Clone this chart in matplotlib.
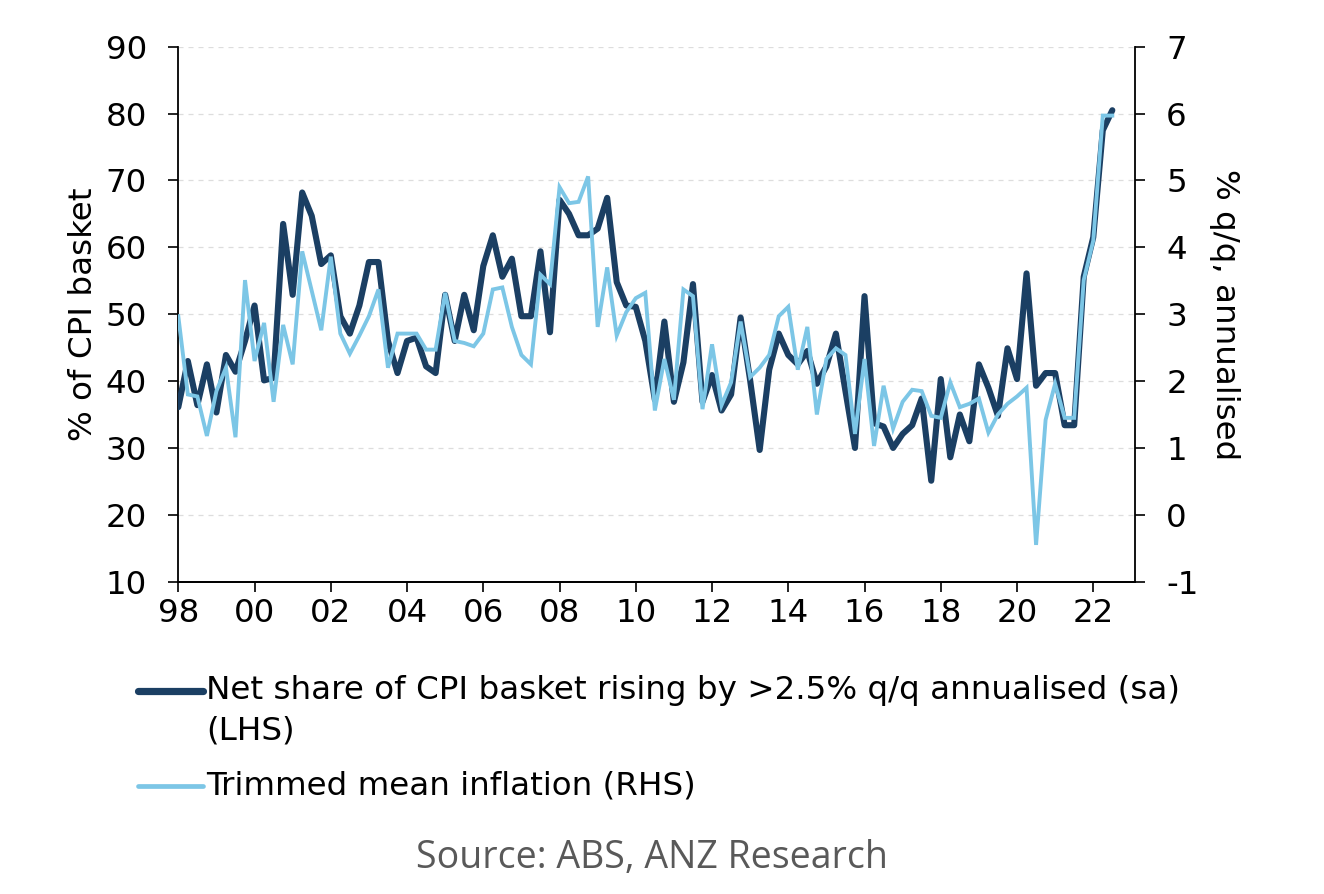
import matplotlib
matplotlib.use("Agg")
import matplotlib.pyplot as plt
from matplotlib.lines import Line2D
import numpy as np

# ---------------- data ----------------
start_year = 1998.0
net_share = [36.1, 43.0, 36.4, 42.5, 35.3, 43.9, 41.4, 46.0, 51.3, 40.1,
             40.5, 63.5, 52.9, 68.2, 64.7, 57.5, 58.8, 49.7, 47.1, 51.3,
             57.8, 57.8, 46.0, 41.2, 46.0, 46.5, 42.2, 41.2, 52.9, 46.0,
             52.9, 47.6, 57.2, 61.8, 55.6, 58.3, 49.7, 49.7, 59.4, 47.3,
             67.1, 65.0, 61.8, 61.8, 62.8, 67.4, 54.8, 51.3, 51.1, 46.0,
             37.2, 48.9, 36.9, 42.8, 54.5, 36.9, 40.9, 35.6, 38.0, 49.5,
             40.1, 29.7, 41.7, 47.1, 43.9, 42.5, 44.5, 39.6, 42.2, 47.1,
             38.5, 30.0, 52.7, 33.7, 33.2, 30.0, 32.1, 33.4, 37.4, 25.1,
             40.3, 28.6, 35.0, 31.0, 42.5, 39.0, 34.8, 44.9, 40.3, 56.1,
             39.3, 41.2, 41.2, 33.4, 33.4, 55.6, 61.5, 77.5, 80.5]
trimmed_mean = [2.97, 1.80, 1.77, 1.18, 1.85, 2.20, 1.16, 3.51, 2.30, 2.87,
                1.69, 2.84, 2.25, 3.94, 3.35, 2.76, 3.86, 2.71, 2.41, 2.68,
                2.97, 3.37, 2.20, 2.71, 2.71, 2.71, 2.47, 2.47, 3.32, 2.60,
                2.57, 2.52, 2.71, 3.37, 3.40, 2.81, 2.39, 2.25, 3.59, 3.45,
                4.90, 4.66, 4.68, 5.06, 2.81, 3.70, 2.68, 3.03, 3.24, 3.32,
                1.56, 2.33, 1.72, 3.37, 3.27, 1.58, 2.55, 1.64, 1.98, 2.89,
                2.06, 2.20, 2.39, 2.97, 3.11, 2.17, 2.81, 1.50, 2.33, 2.49,
                2.39, 1.21, 2.33, 1.03, 1.93, 1.29, 1.69, 1.87, 1.85, 1.48,
                1.45, 1.98, 1.61, 1.66, 1.74, 1.23, 1.50, 1.66, 1.77, 1.90,
                -0.45, 1.42, 1.96, 1.45, 1.45, 3.51, 4.10, 5.97, 5.97]
x_tick_years = [1998, 2000, 2002, 2004, 2006, 2008, 2010, 2012, 2014, 2016, 2018, 2020, 2022]
x_tick_labels = ["98", "00", "02", "04", "06", "08", "10", "12", "14", "16", "18", "20", "22"]
left_ticks = [10, 20, 30, 40, 50, 60, 70, 80, 90]
right_ticks = [-1, 0, 1, 2, 3, 4, 5, 6, 7]
label_net = "Net share of CPI basket rising by >2.5% q/q annualised (sa)\n(LHS)"
label_tm = "Trimmed mean inflation (RHS)"

dates = start_year + 0.25 * np.arange(len(net_share))

DARK = "#1b3f63"
LIGHT = "#7cc6e6"

plt.rcParams['font.family'] = ['DejaVu Sans']
plt.rcParams['axes.unicode_minus'] = False

W, H = 1324, 894
fig = plt.figure(figsize=(W / 100, H / 100), dpi=100)
fig.patch.set_facecolor("white")

left_px, right_px, top_px, bot_px = 178.3, 1135.0, 46.7, 581.7
ax = fig.add_axes([left_px / W, 1 - bot_px / H, (right_px - left_px) / W, (bot_px - top_px) / H])
ax2 = ax.twinx()

ax.plot(dates, net_share, color=DARK, lw=4.4, solid_joinstyle="round", solid_capstyle="round", zorder=3)
ax2.plot(dates, trimmed_mean, color=LIGHT, lw=2.8, solid_joinstyle="miter", zorder=3)

ax.set_xlim(1998.0, 2023.095)
ax.set_ylim(10, 90)
ax2.set_ylim(-1, 7)

ax.set_yticks(left_ticks)
ax2.set_yticks(right_ticks)
ax.set_xticks(x_tick_years)
ax.set_xticklabels(x_tick_labels)

for y in left_ticks[1:]:
    ax.axhline(y, color="#dddddd", lw=0.9, ls=(0, (4, 4)), zorder=1)

fs = 23.4
ax.tick_params(axis="both", direction="out", length=7.5, width=1.2, labelsize=fs, colors="black")
ax.tick_params(axis="x", pad=4)
ax.tick_params(axis="y", pad=15)
ax2.tick_params(axis="y", direction="out", length=7.5, width=1.2, labelsize=fs, pad=15)

for a in (ax, ax2):
    a.spines["top"].set_visible(False)
    for s in ("left", "right", "bottom"):
        a.spines[s].set_linewidth(1.3)
        a.spines[s].set_color("black")
ax.spines["right"].set_visible(False)
ax2.spines["left"].set_visible(False)

ax.set_ylabel("% of CPI basket", fontsize=fs, labelpad=5)
ax2.set_ylabel("% q/q, annualised", fontsize=fs, rotation=270, labelpad=30)

# ---------------- legend (manual) ----------------
def fx(px):
    return px / W

def fy(py):
    return 1 - py / H

fig.add_artist(Line2D([fx(138), fx(203)], [fy(691), fy(691)], color=DARK, lw=5.2,
                      solid_capstyle="round", transform=fig.transFigure))
fig.add_artist(Line2D([fx(138), fx(203)], [fy(786), fy(786)], color=LIGHT, lw=3.4,
                      solid_capstyle="round", transform=fig.transFigure))
fig.text(fx(206), fy(691), label_net.split("\n")[0], fontsize=fs, va="center", ha="left")
fig.text(fx(206), fy(731), label_net.split("\n")[1], fontsize=fs, va="center", ha="left")
fig.text(fx(206), fy(786), label_tm, fontsize=fs, va="center", ha="left")

fig.text(fx(652), fy(858), "Source: ABS, ANZ Research", fontsize=27, color="#595959",
         family=["Open Sans", "DejaVu Sans"], ha="center", va="center")

fig.savefig("out.png", dpi=100, facecolor="white")
